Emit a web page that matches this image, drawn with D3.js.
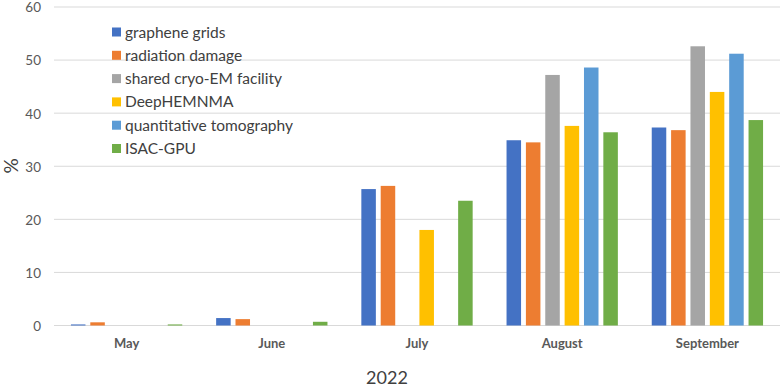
<!DOCTYPE html>
<html><head><meta charset="utf-8">
<script src="https://cdn.jsdelivr.net/npm/d3@7"></script>
<style>body{margin:0;background:#fff;} svg{display:block;font-family:Lato,"Open Sans",sans-serif;}</style>
</head><body><svg id="c" width="782" height="390"></svg>
<script>
const months = ["May","June","July","August","September"];
const seriesNames = ["graphene grids","radiation damage","shared cryo-EM facility","DeepHEMNMA","quantitative tomography","ISAC-GPU"];
const colors = ["#4472C4","#ED7D31","#A5A5A5","#FFC000","#5B9BD5","#70AD47"];
const grapheneGrids = [0.2, 1.4, 25.7, 34.9, 37.3];
const radiationDamage = [0.6, 1.2, 26.3, 34.5, 36.8];
const sharedCryoEM = [0, 0, 0, 47.2, 52.6];
const deepHEMNMA = [0, 0, 18.0, 37.6, 44.0];
const quantTomography = [0, 0, 0, 48.6, 51.2];
const isacGPU = [0.2, 0.7, 23.5, 36.4, 38.7];
const yTicks = [0,10,20,30,40,50,60];
const xTitle = "2022";
const yTitle = "%";

const values = [grapheneGrids, radiationDamage, sharedCryoEM, deepHEMNMA, quantTomography, isacGPU];
const svg = d3.select("#c");
const L = 54, R = 780, T = 7, B = 325.5;
const x0 = d3.scaleBand().domain(months).range([L, R]).paddingInner(0.2).paddingOuter(0.1);
const x1 = d3.scaleBand().domain(d3.range(seriesNames.length)).range([0, x0.bandwidth()]).paddingInner(0.25).paddingOuter(0.125);
const y = d3.scaleLinear().domain([0,60]).range([B, T]);

// gridlines
svg.append("g").selectAll("line").data(yTicks).join("line")
  .attr("x1", L).attr("x2", R).attr("y1", d=>y(d)).attr("y2", d=>y(d))
  .attr("stroke", "#D9D9D9").attr("stroke-width", 1);

// y axis labels
const yAxis = d3.axisLeft(y).tickValues(yTicks).tickSize(0).tickPadding(0);
const ya = svg.append("g").attr("transform", `translate(41,0)`).call(yAxis);
ya.select(".domain").remove();
ya.selectAll("text").attr("fill","#595959").attr("font-size","13.5px").attr("dy","0.36em").attr("font-family","Lato,'Open Sans',sans-serif");

// bars
const groups = svg.append("g").selectAll("g").data(months).join("g")
  .attr("transform", d => `translate(${x0(d)},0)`);
groups.selectAll("rect").data((m, mi) => values.map((v, si) => ({si, v: v[mi]})).filter(d => d.v > 0))
  .join("rect")
  .attr("x", d => x1(d.si)).attr("width", x1.bandwidth())
  .attr("y", d => y(d.v)).attr("height", d => B - y(d.v))
  .attr("fill", d => colors[d.si]);

// x axis labels
const xAxis = d3.axisBottom(x0).tickSize(0).tickPadding(0);
const xa = svg.append("g").attr("transform", `translate(0,${B+13})`).call(xAxis);
xa.select(".domain").remove();
xa.selectAll("text").attr("fill","#595959").attr("font-size","13px").attr("font-weight","bold").attr("font-family","Lato,'Open Sans',sans-serif");

// axis titles
svg.append("text").attr("x", 387).attr("y", 384).attr("text-anchor","middle")
  .attr("font-size","18px").attr("fill","#404040").text(xTitle);
svg.append("text").attr("transform","translate(18,166) rotate(-90)").attr("text-anchor","middle")
  .attr("font-size","19px").attr("fill","#404040").text(yTitle);

// legend
const lg = svg.append("g").attr("transform","translate(112,32)");
const li = lg.selectAll("g").data(seriesNames).join("g").attr("transform",(d,i)=>`translate(0,${i*23.3})`);
li.append("rect").attr("x",0).attr("y",-4.5).attr("width",9).attr("height",9).attr("fill",(d,i)=>colors[i]);
li.append("text").attr("x",13).attr("y",5.5).attr("font-size","15.5px").attr("fill","#404040").text(d=>d);
</script></body></html>
